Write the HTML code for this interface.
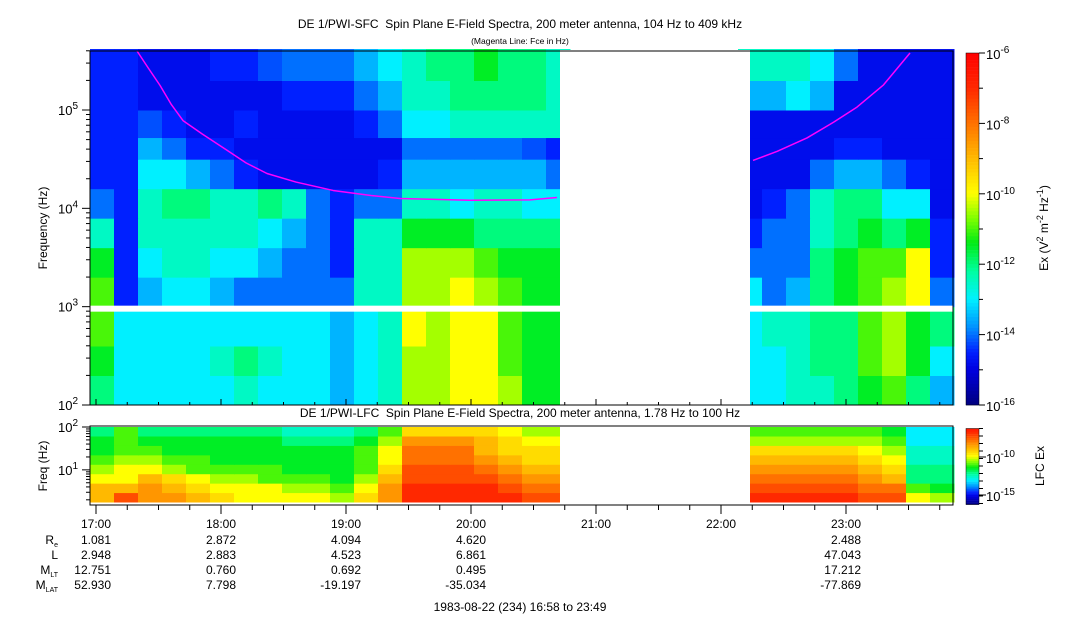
<!DOCTYPE html>
<html><head><meta charset="utf-8">
<style>
html,body{margin:0;padding:0;background:#fff;}
svg{display:block;font-family:"Liberation Sans",sans-serif;}
.pre{white-space:pre;}
</style></head>
<body>
<svg id="chart" width="1083" height="620" viewBox="0 0 1083 620" xmlns="http://www.w3.org/2000/svg">
<text class="pre" x="520" y="28" font-size="12" text-anchor="middle">DE 1/PWI-SFC  Spin Plane E-Field Spectra, 200 meter antenna, 104 Hz to 409 kHz</text>
<text x="520" y="44" font-size="8.5" text-anchor="middle">(Magenta Line: Fce in Hz)</text>
<text class="pre" x="520" y="417" font-size="12" text-anchor="middle">DE 1/PWI-LFC  Spin Plane E-Field Spectra, 200 meter antenna, 1.78 Hz to 100 Hz</text>
<g id="sfc"></g>
<g id="lfc"></g>
<g id="axes"></g>
<text transform="translate(47,228) rotate(-90)" font-size="12" text-anchor="middle">Frequency (Hz)</text>
<text transform="translate(47,466) rotate(-90)" font-size="12" text-anchor="middle">Freq (Hz)</text>
<text transform="translate(1048,228) rotate(-90)" font-size="12" text-anchor="middle">Ex (V<tspan dy="-5" font-size="9">2</tspan><tspan dy="5"> m</tspan><tspan dy="-5" font-size="9">-2</tspan><tspan dy="5"> Hz</tspan><tspan dy="-5" font-size="9">-1</tspan><tspan dy="5">)</tspan></text>
<text transform="translate(1044,466) rotate(-90)" font-size="12" text-anchor="middle">LFC Ex</text>
<text x="520" y="611" font-size="12" text-anchor="middle">1983-08-22 (234) 16:58 to 23:49</text>
</svg>
<script>
// ---- data ----
const timeDomain = [16.952, 23.856];
const binStarts = [16.952,17.144,17.336,17.528,17.72,17.912,18.104,18.296,18.488,18.68,18.872,19.064,19.256,19.448,19.64,19.832,20.024,20.216,20.408,20.6,20.792,20.984,21.176,21.368,21.56,21.752,21.944,22.136,22.328,22.52,22.712,22.904,23.096,23.288,23.48,23.672];
const binWidth = 0.192;
const gapStart = 20.712, gapEnd = 22.232;
const sfcBandEdges = [2,2.3,2.6,3.0,3.3,3.6,3.9,4.2,4.5,4.72,5.0,5.3,5.62];
const N=null;
const sfcB0=[4,3,3,3,3,3,3.5,3,3,3,2.5,3,3.5,5.5,5.5,6,6,5.5,4.5,4.5,N,N,N,N,N,N,N,3,3,3.5,3.5,4,4.5,5,4,2.5];
const sfcB1=[4.5,3,3,3,3,3.5,4,3.5,3,3,2.5,3,3.5,5.5,5.5,6,6,5,4.5,4.5,N,N,N,N,N,N,N,3,3,3.5,4,4,5,5.5,4.5,3];
const sfcB2=[5,3,3,3,3,3,3,3,3,3,2.5,3,3.5,6,5.5,6,6,5,4.5,4.5,N,N,N,N,N,N,N,3,3.5,3.5,4,4,5,5.5,4.5,4];
const sfcB3=[5,1.5,2.5,3,3,2.5,2,2,2,2,2,3.5,3.5,5.5,5.5,6,5.5,5,4.5,4.5,N,N,N,N,N,N,N,3,2,2.5,4,4.5,5,5.5,6,2];
const sfcB4=[4.5,1.5,3,3.5,3.5,3,3,2.5,2,2,1.5,3.5,3.5,5.5,5.5,5.5,5,4.5,4.5,4.5,N,N,N,N,N,N,N,2,2,2,4,4.5,5,5,6,1.5];
const sfcB5=[3.5,1.5,3.5,3.5,3.5,3.5,3.5,3,2.5,2,1.5,3.5,3.5,4.5,4.5,4.5,4,4,4,4,N,N,N,N,N,N,N,1.5,2,2,3.5,4,4.5,4,4.5,1.5];
const sfcB6=[2,1.5,3.5,4,4,3.5,3.5,4,3.5,2,1.5,2,2,3.5,3.5,3,3.5,3.5,3,3,N,N,N,N,N,N,N,1.2,1.5,2,3.5,4,4,3,3,1.2];
const sfcB7=[1.5,1.5,3,3,2.5,2,1.5,1.2,1.2,1.2,1.2,1.2,1.5,2.5,2.5,2.5,2.5,2.5,2.5,2,N,N,N,N,N,N,N,1.2,1.2,1.2,2,2.5,2.5,2,1.5,1.2];
const sfcB8=[1.5,1.5,2.5,2,1.5,1.5,1.2,1.2,1.2,1.2,1.2,1.2,1.2,2,2,2,2,2,1.8,1.5,N,N,N,N,N,N,N,1.2,1.2,1.2,1.2,1.5,1.5,1.2,1.2,1.2];
const sfcB9=[1.5,1.5,1.8,1.5,1.2,1.2,1.5,1.2,1.2,1.2,1.2,1.5,2,3,3,3.5,3.5,3.5,3.5,3.5,N,N,N,N,N,N,N,1.2,1.2,1.2,1.2,1.2,1.2,1.2,1.2,1.2];
const sfcB10=[1.5,1.5,1.2,1.2,1.2,1.2,1.2,1.2,1.5,1.5,1.5,2,2.5,3.5,3.5,4,4,4,4,3.5,N,N,N,N,N,N,N,2.5,2.5,3,2.5,1.2,1.2,1.2,1.2,1.2];
const sfcB11=[1.5,1.5,1.2,1.2,1.2,1.5,1.5,1.8,2,2,2,2.5,3,3.5,4,4,4.5,4,4,3.5,N,N,N,N,N,N,N,3.5,3.5,3.5,3,2,1.2,1.2,1.2,1.2];
const sfcBands=[sfcB0,sfcB1,sfcB2,sfcB3,sfcB4,sfcB5,sfcB6,sfcB7,sfcB8,sfcB9,sfcB10,sfcB11];
const lfcBandEdges=[0.25,0.47,0.69,0.91,1.13,1.35,1.57,1.79,2.0];
const lfcL0=[7,8.5,7.5,7.5,7,6.5,6,6,6,6,5.5,6.5,7.5,9,9,9,9,9,8.5,8.5,N,N,N,N,N,N,N,9,9,9,9,9,8.5,8.5,6,5.5];
const lfcL1=[7,7,7.5,7,6.5,6,6,6,5.5,5.5,5,6,7.5,9,9,9,9,8.5,8,8,N,N,N,N,N,N,N,8.5,8.5,8.5,8.5,8.5,8,8,5,4.5];
const lfcL2=[6,6,7,6.5,6,5.5,5.5,5,5,5,4.5,5.5,7,8.5,8.5,8.5,8.5,8,7.5,7.5,N,N,N,N,N,N,N,8,8,8,8,8,7.5,7,4,4];
const lfcL3=[5.5,6,6,5.5,5,5,5,5,4.5,4.5,4.5,5,6.5,8.5,8.5,8.5,8,7.5,7,7,N,N,N,N,N,N,N,7.5,7.5,7.5,7.5,7.5,7,6.5,4,4];
const lfcL4=[5,5.5,5.5,5,5,4.5,4.5,4.5,4.5,4.5,4.5,5,6,8,8,8,7.5,7,6.5,6.5,N,N,N,N,N,N,N,7,7,7,7,7,6.5,6,3.5,3.5];
const lfcL5=[4.5,5,5,4.5,4.5,4.5,4.5,4.5,4.5,4.5,4.5,5,6,8,8,8,7,6.5,6.5,6.5,N,N,N,N,N,N,N,6.5,6.5,6.5,6.5,6.5,6,5.5,3.5,3.5];
const lfcL6=[4.5,5,4.5,4.5,4.5,4.5,4.5,4.5,4,4,4,4.5,5.5,7.5,7.5,7.5,7,6.5,6,6,N,N,N,N,N,N,N,5.5,5.5,5.5,5.5,5.5,5.5,5,3,3];
const lfcL7=[4,5,4,4,4,4,4,4,3.5,3.5,3.5,4,5,6.5,6.5,6.5,6.5,6,5.5,5.5,N,N,N,N,N,N,N,5,5,5,5,5,5,4.5,3,3];
const lfcBands=[lfcL0,lfcL1,lfcL2,lfcL3,lfcL4,lfcL5,lfcL6,lfcL7];
const fceTimesA=[17.328,17.42,17.512,17.6,17.696,17.85,18.048,18.2,18.368,18.6,18.896,19.2,19.432,19.992,20.472,20.688];
const fceHzA=[409000,265000,178000,115000,78000,57000,39000,29000,22600,18500,15200,13500,12600,12100,12200,12900];
const fceTimesB=[22.256,22.45,22.688,22.9,23.088,23.3,23.512];
const fceHzB=[30700,38000,52000,75000,107000,180000,380000];
const hourTicks=[17,18,19,20,21,22,23];
const hourLabels=["17:00","18:00","19:00","20:00","21:00","22:00","23:00"];
const reVals=["1.081","2.872","4.094","4.620","","","2.488"];
const lVals=["2.948","2.883","4.523","6.861","","","47.043"];
const mltVals=["12.751","0.760","0.692","0.495","","","17.212"];
const mlatVals=["52.930","7.798","-19.197","-35.034","","","-77.869"];

// ---- scales ----
const X0=90,X1=953;
const x=t=>X0+(t-timeDomain[0])/(timeDomain[1]-timeDomain[0])*(X1-X0);
const ySfc=lf=>405-(lf-2)*(405-51)/(5.6-2);
const yLfc=lf=>427+(2-lf)*(502-427)/(2-0.25);
const stops=[[0,[0,0,127]],[1,[0,0,224]],[1.5,[0,32,255]],[2.2,[0,144,255]],[3,[0,240,255]],[3.8,[0,255,160]],[4.6,[0,235,20]],[5.3,[128,255,0]],[6,[255,255,0]],[7.5,[255,150,0]],[9,[255,40,0]],[10,[255,0,0]]];
function col(v){v=Math.max(0,Math.min(10,v));for(let i=1;i<stops.length;i++){if(v<=stops[i][0]){const a=stops[i-1],b=stops[i],f=(v-a[0])/(b[0]-a[0]);const c=a[1].map((q,k)=>Math.round(q+(b[1][k]-q)*f));return `rgb(${c})`;}}return 'rgb(255,0,0)';}
const NS="http://www.w3.org/2000/svg";
function mk(tag,attrs,parent){const e=document.createElementNS(NS,tag);for(const k in attrs)e.setAttribute(k,attrs[k]);parent.appendChild(e);return e;}

const sfc=document.getElementById('sfc'), lfc=document.getElementById('lfc'), axes=document.getElementById('axes');
sfcBands.forEach((band,bi)=>{band.forEach((v,ti)=>{if(v===null)return;
 const r=mk('rect',{x:x(binStarts[ti]),y:ySfc(sfcBandEdges[bi+1]),width:x(binStarts[ti]+binWidth)-x(binStarts[ti])+0.5,height:ySfc(sfcBandEdges[bi])-ySfc(sfcBandEdges[bi+1])+0.5,fill:col(v)},sfc);
 
 });});
lfcBands.forEach((band,bi)=>{band.forEach((v,ti)=>{if(v===null)return;
 const r=mk('rect',{x:x(binStarts[ti]),y:yLfc(lfcBandEdges[bi+1]),width:x(binStarts[ti]+binWidth)-x(binStarts[ti])+0.5,height:yLfc(lfcBandEdges[bi])-yLfc(lfcBandEdges[bi+1])+0.5,fill:col(v)},lfc);
 
 });});
// gaps
let g=mk('rect',{x:x(gapStart),y:50,width:x(gapEnd)-x(gapStart),height:356,fill:'#fff'},sfc);


g=mk('rect',{x:x(gapStart),y:426,width:x(gapEnd)-x(gapStart),height:80,fill:'#fff'},lfc);


g=mk('rect',{x:X0,y:ySfc(3.0)-1,width:X1-X0,height:6,fill:'#fff'},sfc);


// Fce lines
[[fceTimesA,fceHzA],[fceTimesB,fceHzB]].forEach(([ts,hz])=>{
 const p=mk('polyline',{points:ts.map((t,i)=>x(t)+','+Math.max(51,ySfc(Math.log10(hz[i])))).join(' '),fill:'none',stroke:'#ff00ff','stroke-width':1.5,'stroke-linejoin':'round'},sfc);
 
 });
// frames
mk('rect',{x:X0,y:51,width:X1-X0,height:354,fill:'none',stroke:'#000'},axes);
mk('rect',{x:X0,y:426,width:X1-X0,height:79,fill:'none',stroke:'#000'},axes);
// y ticks SFC
for(let d=2;d<=5;d++){for(let m=1;m<10;m++){const lf=d+Math.log10(m);if(lf>5.61)break;const yy=ySfc(lf);
 mk('line',{x1:X0-(m==1?8:4),x2:X0,y1:yy,y2:yy,stroke:'#000'},axes);}
 const t=mk('text',{x:X0-12,y:ySfc(d)+5,'font-size':13,'text-anchor':'end'},axes);t.innerHTML=`10<tspan dy="-6" font-size="10">${d}</tspan>`;
 
 }
// y ticks LFC
for(let d=0;d<=2;d++){for(let m=1;m<10;m++){const lf=d+Math.log10(m);if(lf<0.25||lf>2)continue;const yy=yLfc(lf);
 mk('line',{x1:X0-(m==1?8:4),x2:X0,y1:yy,y2:yy,stroke:'#000'},axes);}}
[1,2].forEach(d=>{const t=mk('text',{x:X0-12,y:yLfc(d)+5,'font-size':13,'text-anchor':'end'},axes);t.innerHTML=`10<tspan dy="-6" font-size="10">${d}</tspan>`;
 
 });
// x ticks
for(let t=17;t<=23.75;t+=0.25){const xx=x(t);const major=Math.abs(t-Math.round(t))<1e-6;
 mk('line',{x1:xx,x2:xx,y1:505,y2:505+(major?9:5),stroke:'#000'},axes);
 mk('line',{x1:xx,x2:xx,y1:405,y2:405-(major?6:3),stroke:'#000'},axes);}
// ephemeris
hourTicks.forEach((h,i)=>{
 const t=mk('text',{x:x(h),y:528,'font-size':12,'text-anchor':'middle'},axes);t.textContent=hourLabels[i];
 
 
 [reVals,lVals,mltVals,mlatVals].forEach((arr,r)=>{if(!arr[i])return;
  const v=mk('text',{x:x(h)+15,y:544+r*15,'font-size':12,'text-anchor':'end'},axes);v.textContent=arr[i];
  
  });});
const lbl=[['R','e'],['L',''],['M','LT'],['M','LAT']];
lbl.forEach((l,r)=>{const t=mk('text',{x:58,y:544+r*15,'font-size':12,'text-anchor':'end'},axes);
 t.innerHTML=l[0]+(l[1]?`<tspan dy="3" font-size="7">${l[1]}</tspan>`:'');
 
 });
// colorbars
const cb1=mk('g',{},axes);
for(let i=0;i<100;i++){const y0=53+i*3.52;mk('rect',{x:966,y:y0,width:13,height:3.8,fill:col(10-(i+0.5)/10)},cb1);}


mk('rect',{x:966,y:53,width:13,height:352,fill:'none',stroke:'#000','stroke-width':0.5},axes);
const cbLabels=[-6,-8,-10,-12,-14,-16];
cbLabels.forEach((e,i)=>{const yy=53+i*70.4;mk('line',{x1:979,x2:985,y1:yy,y2:yy,stroke:'#000'},axes);
 if(i<5)mk('line',{x1:979,x2:983,y1:yy+35.2,y2:yy+35.2,stroke:'#000'},axes);
 const t=mk('text',{x:986,y:yy+6,'font-size':13},axes);t.innerHTML=`10<tspan dy="-6" font-size="10">${e}</tspan>`;
 
 });
const cb2=mk('g',{},axes);
for(let i=0;i<40;i++){mk('rect',{x:966,y:428.5+i*1.9,width:13,height:2.1,fill:col(9.5-(i+0.5)/40*9.5)},cb2);}


mk('rect',{x:966,y:428.5,width:13,height:76,fill:'none',stroke:'#000','stroke-width':0.5},axes);
for(let i=0;i<11;i++){const yy=428.5+i*7.5;mk('line',{x1:979,x2:983,y1:yy,y2:yy,stroke:'#000'},axes);}
[[457,'-10'],[495,'-15']].forEach(([yy,e])=>{mk('line',{x1:979,x2:986,y1:yy,y2:yy,stroke:'#000'},axes);
 const t=mk('text',{x:986,y:yy+6,'font-size':13},axes);t.innerHTML=`10<tspan dy="-6" font-size="10">${e}</tspan>`;
 
 });
</script>
</body></html>
